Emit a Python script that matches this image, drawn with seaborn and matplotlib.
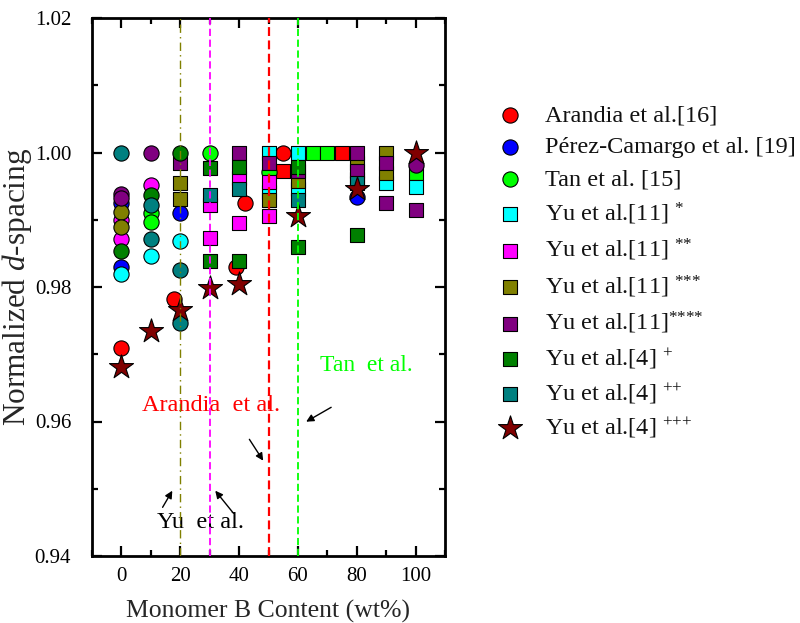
import matplotlib
matplotlib.use("Agg")
import matplotlib.pyplot as plt
import seaborn as sns
import numpy as np
from matplotlib.ticker import MultipleLocator

# ---------------- data ----------------
ARANDIA_CIRC_X = [0, 18, 39, 42, 55]
ARANDIA_CIRC_Y = [0.9710, 0.9782, 0.9829, 0.9925, 1.0000]
ARANDIA_SQ_X = [55, 75]
ARANDIA_SQ_Y = [0.9972, 1.0000]

PEREZ_CIRC_X = [0, 0, 20, 80]
PEREZ_CIRC_Y = [0.9925, 0.9829, 0.9910, 0.9934]

TAN_CIRC_X = [10, 10, 30, 50]
TAN_CIRC_Y = [0.9910, 0.9897, 1.0000, 0.9971]
TAN_SQ_X = [65, 70, 100]
TAN_SQ_Y = [1.0000, 1.0000, 0.9969]

YU11A_CIRC_X = [0, 10, 20]
YU11A_CIRC_Y = [0.9820, 0.9846, 0.9868]
YU11A_SQ_X = [50, 50, 60, 60, 90, 100]
YU11A_SQ_Y = [1.0000, 0.9942, 1.0000, 0.9945, 0.9954, 0.9949]

YU11B_CIRC_X = [0, 0, 10]
YU11B_CIRC_Y = [0.9900, 0.9871, 0.9952]
YU11B_SQ_X = [30, 30, 40, 40, 50, 50]
YU11B_SQ_Y = [0.9922, 0.9873, 0.9962, 0.9895, 0.9956, 0.9905]

YU11C_CIRC_X = [0, 0]
YU11C_CIRC_Y = [0.9912, 0.9889]
YU11C_SQ_X = [20, 20, 50, 60, 80, 80, 90, 90]
YU11C_SQ_Y = [0.9955, 0.9931, 0.9930, 0.9957, 0.9984, 0.9960, 1.0000, 0.9969]

YU11D_CIRC_X = [0, 0, 10, 100]
YU11D_CIRC_Y = [0.9939, 0.9932, 1.0000, 0.9981]
YU11D_SQ_X = [20, 40, 50, 60, 80, 80, 90, 90, 100]
YU11D_SQ_Y = [0.9984, 1.0000, 0.9985, 0.9972, 1.0000, 0.9972, 0.9985, 0.9925, 0.9914]

YU4A_CIRC_X = [0, 10, 20]
YU4A_CIRC_Y = [0.9853, 0.9937, 1.0000]
YU4A_SQ_X = [30, 30, 40, 40, 60, 60, 80]
YU4A_SQ_Y = [0.9977, 0.9839, 0.9979, 0.9839, 0.9979, 0.9859, 0.9877]

YU4B_CIRC_X = [0, 10, 10, 20, 20]
YU4B_CIRC_Y = [1.0000, 0.9922, 0.9871, 0.9825, 0.9746]
YU4B_SQ_X = [30, 40, 60, 80]
YU4B_SQ_Y = [0.9937, 0.9945, 0.9929, 0.9954]

YU4C_X = [0, 10, 20, 30, 40, 60, 80, 100]
YU4C_Y = [0.9681, 0.9734, 0.9766, 0.9799, 0.9805, 0.9905, 0.9945, 1.0000]

LABELS = [
    "Arandia et al.[16]",
    "Pérez-Camargo et al. [19]",
    "Tan et al. [15]",
    r"Yu et al.[11] $^{\text{*}}$",
    r"Yu et al.[11] $^{\text{**}}$",
    r"Yu et al.[11] $^{\text{***}}$",
    r"Yu et al.[11]$^{\text{****}}$",
    r"Yu et al.[4] $^{\text{+}}$",
    r"Yu et al.[4] $^{\text{++}}$",
    r"Yu et al.[4] $^{\text{+++}}$",
]

REF_LINES_X = [20, 30, 50, 60]

X_TICKS = [0, 20, 40, 60, 80, 100]
Y_TICKS = [0.94, 0.96, 0.98, 1.00, 1.02]

# ---------------- style ----------------
sns.set_theme(style="ticks")
plt.rcParams["font.family"] = ["Liberation Serif", "DejaVu Serif"]
plt.rcParams["mathtext.fontset"] = "custom"
plt.rcParams["mathtext.rm"] = "Liberation Serif"
plt.rcParams["mathtext.it"] = "Liberation Serif:italic"
plt.rcParams["mathtext.bf"] = "Liberation Serif:bold"

fig = plt.figure(figsize=(8.0, 6.23), dpi=100)
ax = fig.add_axes([92 / 800, 1 - 556 / 623, (445 - 92) / 800, (556 - 18) / 623])

S_CIRC = 120
S_SQ = 90
S_STAR = 330
EDGE = dict(edgecolor="black", linewidth=0.8)

series = [
    (LABELS[0], "#FF0000", ("o", ARANDIA_CIRC_X, ARANDIA_CIRC_Y), ("s", ARANDIA_SQ_X, ARANDIA_SQ_Y)),
    (LABELS[1], "#0000FF", ("o", PEREZ_CIRC_X, PEREZ_CIRC_Y), None),
    (LABELS[2], "#00FF00", ("o", TAN_CIRC_X, TAN_CIRC_Y), ("s", TAN_SQ_X, TAN_SQ_Y)),
    (LABELS[3], "#00FFFF", ("s", YU11A_SQ_X, YU11A_SQ_Y), ("o", YU11A_CIRC_X, YU11A_CIRC_Y)),
    (LABELS[4], "#FF00FF", ("s", YU11B_SQ_X, YU11B_SQ_Y), ("o", YU11B_CIRC_X, YU11B_CIRC_Y)),
    (LABELS[5], "#808000", ("s", YU11C_SQ_X, YU11C_SQ_Y), ("o", YU11C_CIRC_X, YU11C_CIRC_Y)),
    (LABELS[6], "#800080", ("s", YU11D_SQ_X, YU11D_SQ_Y), ("o", YU11D_CIRC_X, YU11D_CIRC_Y)),
    (LABELS[7], "#008000", ("s", YU4A_SQ_X, YU4A_SQ_Y), ("o", YU4A_CIRC_X, YU4A_CIRC_Y)),
    (LABELS[8], "#008080", ("s", YU4B_SQ_X, YU4B_SQ_Y), ("o", YU4B_CIRC_X, YU4B_CIRC_Y)),
    (LABELS[9], "#800000", ("*", YU4C_X, YU4C_Y), None),
]

size_of = {"o": S_CIRC, "s": S_SQ, "*": S_STAR}
z = 3
for label, color, main, other in series:
    parts = [(main, label)] + ([(other, None)] if other else [])
    for (mk, xs, ys), lab in parts:
        sns.scatterplot(x=xs, y=ys, marker=mk, s=size_of[mk], color=color,
                        label=lab, ax=ax, zorder=z, **EDGE)
    z += 0.1

# reference vertical lines
line_styles = [
    dict(color="#808000", linestyle=(0, (6, 3, 1, 3)), linewidth=1.0),
    dict(color="#FF00FF", linestyle=(0, (4, 2)), linewidth=1.3),
    dict(color="#FF0000", linestyle=(0, (4, 2)), linewidth=1.6),
    dict(color="#00FF00", linestyle=(0, (4, 2)), linewidth=1.3),
]
for xv, st in zip(REF_LINES_X, line_styles):
    ax.axvline(xv, zorder=10, **st)

# annotations
arrow = dict(arrowstyle="-|>", color="black", lw=1.0, mutation_scale=11, shrinkA=0, shrinkB=0)
ax.text(83.3, 0.9684, "Tan  et al.", color="#00FF00", fontsize=17, ha="center", va="center")
ax.annotate("", xy=(62.8, 0.95997), xytext=(71.3, 0.96211), arrowprops=arrow)
ax.text(30.6, 0.96245, "Arandia  et al.", color="#FF0000", fontsize=17.5, ha="center", va="center")
ax.annotate("", xy=(48.2, 0.95417), xytext=(43.5, 0.95735), arrowprops=arrow)
ax.text(26.9, 0.94491, "Yu  et al.", color="black", fontsize=17.5, ha="center", va="center")
ax.annotate("", xy=(17.3, 0.94971), xytext=(14.0, 0.94724), arrowprops=arrow)
ax.annotate("", xy=(31.9, 0.94971), xytext=(38.1, 0.94635), arrowprops=arrow)

# axes
ax.set_xlim(-10, 110)
ax.set_ylim(0.94, 1.02)
ax.set_xticks(X_TICKS)
ax.set_yticks(Y_TICKS)
ax.set_yticklabels([f"{v:.2f}" for v in Y_TICKS])
ax.xaxis.set_minor_locator(MultipleLocator(10))
ax.yaxis.set_minor_locator(MultipleLocator(0.01))
ax.tick_params(which="both", direction="in", top=True, right=True, width=1.6, labelsize=15, colors="black")
ax.tick_params(which="major", length=7)
ax.tick_params(axis="x", which="major", pad=8)
ax.tick_params(axis="y", which="major", pad=15)
ax.tick_params(which="minor", length=4)
for sp in ax.spines.values():
    sp.set_linewidth(2.0)
    sp.set_color("black")

ax.set_xlabel("Monomer B Content (wt%)", fontsize=18.5, labelpad=10)
ax.set_ylabel(r"Normalized $d$-spacing", fontsize=22.5)
ax.yaxis.set_label_coords(-0.163, 0.5)

leg = ax.legend(loc="upper left", bbox_to_anchor=(493 / 800, 1 - 104 / 623),
                bbox_transform=fig.transFigure, frameon=False, fontsize=17.5,
                handlelength=1.4, handletextpad=0.75, borderaxespad=0, borderpad=0,
                labelspacing=0.42)
for t in leg.get_texts():
    t.set_color("#111111")

fig.savefig("out.png", dpi=100)
